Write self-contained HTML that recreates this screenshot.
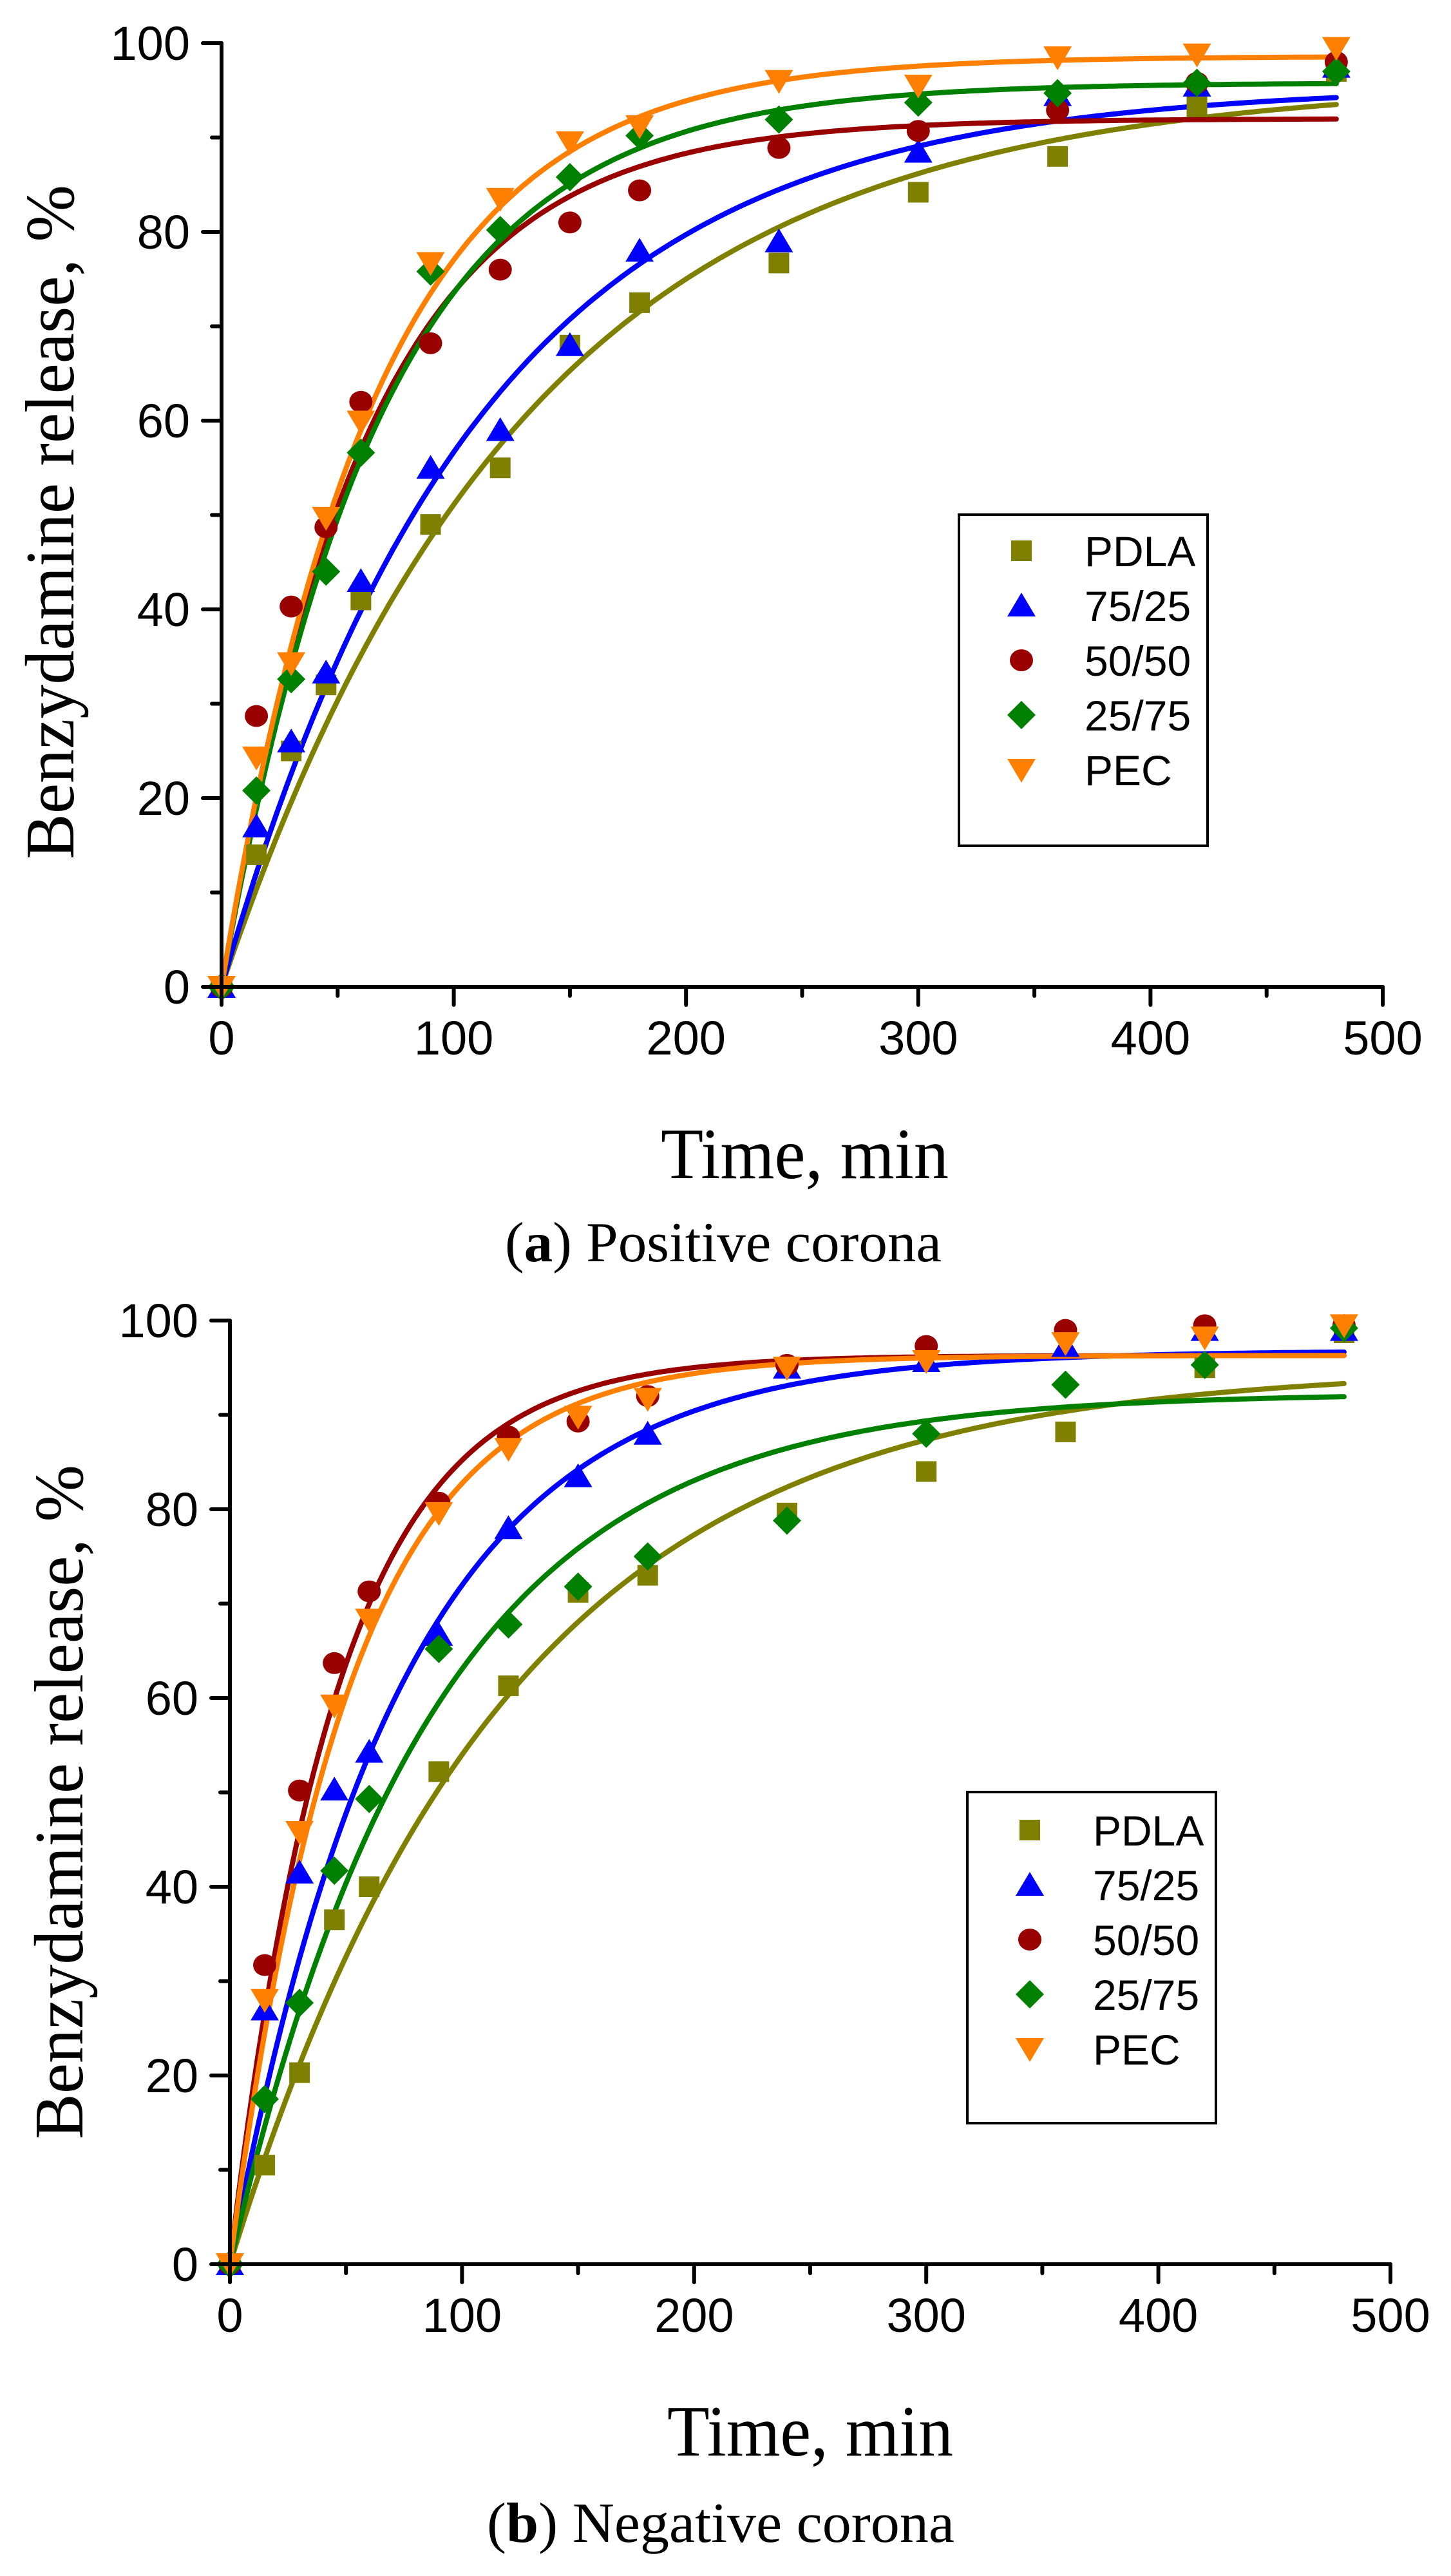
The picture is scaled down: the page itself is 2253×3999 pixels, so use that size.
<!DOCTYPE html>
<html><head><meta charset="utf-8">
<style>
html,body{margin:0;padding:0;background:#fff;}
svg{display:block;}
.tk{font-family:"Liberation Sans",Arial,sans-serif;font-size:74px;fill:#000;}
.lg{font-family:"Liberation Sans",Arial,sans-serif;font-size:66px;fill:#000;}
.ti{font-family:"Liberation Serif","Times New Roman",serif;fill:#000;}
</style></head>
<body>
<svg id="s" xmlns="http://www.w3.org/2000/svg" width="2253" height="3999" viewBox="0 0 2253 3999">
<rect width="2253" height="3999" fill="#fff"/>
<g id="g"></g>
<text class="ti" x="1026" y="1829" font-size="112" textLength="447" lengthAdjust="spacingAndGlyphs">Time, min</text>
<text class="ti" x="784" y="1958" font-size="88" textLength="678" lengthAdjust="spacingAndGlyphs">(<tspan font-weight="bold">a</tspan>) Positive corona</text>
<text class="ti" x="1036" y="3812" font-size="112" textLength="444" lengthAdjust="spacingAndGlyphs">Time, min</text>
<text class="ti" x="756" y="3946" font-size="88" textLength="726" lengthAdjust="spacingAndGlyphs">(<tspan font-weight="bold">b</tspan>) Negative corona</text>
<text class="ti" transform="translate(114,1334) rotate(-90)" font-size="108" textLength="1047" lengthAdjust="spacingAndGlyphs">Benzydamine release, %</text>
<text class="ti" transform="translate(128,3321) rotate(-90)" font-size="108" textLength="1047" lengthAdjust="spacingAndGlyphs">Benzydamine release, %</text>
</svg>
<script>
(function(){
var NS="http://www.w3.org/2000/svg",g=document.getElementById("g");
function el(t,a,txt){var e=document.createElementNS(NS,t);for(var k in a)e.setAttribute(k,a[k]);if(txt!=null)e.textContent=txt;g.appendChild(e);return e;}
var C={sq:"#808000",tu:"#0000ff",ci:"#990000",di:"#008000",td:"#ff8000"};
function marker(type,x,y){
  if(type=="sq")el("rect",{x:x-16,y:y-16,width:32,height:32,fill:C.sq});
  else if(type=="tu")el("polygon",{points:(x-22)+","+(y+17)+" "+(x+22)+","+(y+17)+" "+x+","+(y-20),fill:C.tu});
  else if(type=="ci")el("ellipse",{cx:x,cy:y,rx:18,ry:17,fill:C.ci});
  else if(type=="di")el("polygon",{points:(x-22)+","+y+" "+x+","+(y-22)+" "+(x+22)+","+y+" "+x+","+(y+22),fill:C.di});
  else el("polygon",{points:(x-22)+","+(y-17)+" "+(x+22)+","+(y-17)+" "+x+","+(y+20),fill:C.td});
}
var T=[0,15,30,45,60,90,120,150,180,240,300,360,420,480];
function panel(P){
  var X=function(t){return P.x0+t*(P.x1-P.x0)/500;},Y=function(v){return P.y0-v*(P.y0-P.y1)/100;};
  P.s.forEach(function(s){
    var d="";for(var t=0;t<=480;t+=2){d+=(t?"L":"M")+X(t).toFixed(1)+","+Y(s.A*(1-Math.exp(-s.k*t))).toFixed(1);}
    el("path",{d:d,fill:"none",stroke:C[s.m],"stroke-width":8,"stroke-linejoin":"round","stroke-linecap":"round"});
  });
  P.s.forEach(function(s){
    s.d.forEach(function(v,i){marker(s.m,X(T[i]),Y(v));});
  });
  el("path",{d:"M"+P.x0+","+P.y1+"V"+P.y0+"H"+P.x1,fill:"none",stroke:"#000","stroke-width":6,"stroke-linecap":"round","stroke-linejoin":"round"});
  for(var t=0;t<=500;t+=50){var maj=t%100==0;el("line",{x1:X(t),y1:P.y0,x2:X(t),y2:P.y0+(maj?28:14),stroke:"#000","stroke-width":6,"stroke-linecap":"round"});
    if(maj)el("text",{x:X(t),y:P.y0+105,"text-anchor":"middle","class":"tk"},String(t));}
  for(var v=0;v<=100;v+=10){var maj=v%20==0;el("line",{x1:P.x0,y1:Y(v),x2:P.x0-(maj?29:15),y2:Y(v),stroke:"#000","stroke-width":6,"stroke-linecap":"round"});
    if(maj)el("text",{x:P.x0-49,y:Y(v)+26,"text-anchor":"end","class":"tk"},String(v));}
  var L=P.L;el("rect",{x:L.x,y:L.y,width:386,height:514,fill:"#fff",stroke:"#000","stroke-width":4});
  var names=["PDLA","75/25","50/50","25/75","PEC"],ms=["sq","tu","ci","di","td"];
  for(var i=0;i<5;i++){var yy=L.r0+i*L.sp;marker(ms[i],L.x+97,yy);el("text",{x:L.x+195,y:yy+24,"class":"lg"},names[i]);}
}
panel({x0:344,x1:2147,y0:1532,y1:67,L:{x:1489,y:799,r0:855,sp:85},s:[
 {m:"sq",A:96,k:0.0076,d:[0,14,25,32,41,49,55,68,72.5,76.7,84.2,88,93.3,97]},
 {m:"tu",A:95.5,k:0.009,d:[0,17,26,33.3,43,55,59,68,78,79,88.5,94.5,95.5,97.5]},
 {m:"ci",A:92,k:0.0161,d:[0,28.7,40.3,48.7,62,68.2,76,81,84.4,88.9,90.7,92.9,95.8,98]},
 {m:"di",A:95.8,k:0.0146,d:[0,20.8,32.6,44,56.6,75.8,80.2,85.8,90.2,91.9,93.7,94.7,95.8,97]},
 {m:"td",A:98.6,k:0.0152,d:[0,24.3,34.3,49.7,59.9,76.7,83.5,89.5,91.2,96,95.5,98.5,98.8,99.5]}
]});
panel({x0:357,x1:2159,y0:3515,y1:2050,L:{x:1502,y:2782,r0:2841,sp:85},s:[
 {m:"sq",A:95,k:0.0084,d:[0,10.5,20.3,36.5,40,52.2,61.3,71.2,73,79.6,84,88.2,95,98.7]},
 {m:"tu",A:96.8,k:0.0136,d:[0,27,41.5,50.3,54.3,66.7,78,83.5,88,95,95.7,97.3,99,99]},
 {m:"ci",A:96.3,k:0.0216,d:[0,31.7,50.2,63.7,71.3,80.7,87.7,89.3,92,95.3,97.3,99,99.5,99.5]},
 {m:"di",A:92.3,k:0.0115,d:[0,17.5,27.7,41.7,49.3,65.2,67.8,71.8,75,78.8,88,93.2,95.3,99.2]},
 {m:"td",A:96.3,k:0.0196,d:[0,28,45.8,59.2,68.3,79.6,86.4,89.8,91.7,95,95.7,97.6,98.2,99.5]}
]});
})();
</script>
</body></html>
